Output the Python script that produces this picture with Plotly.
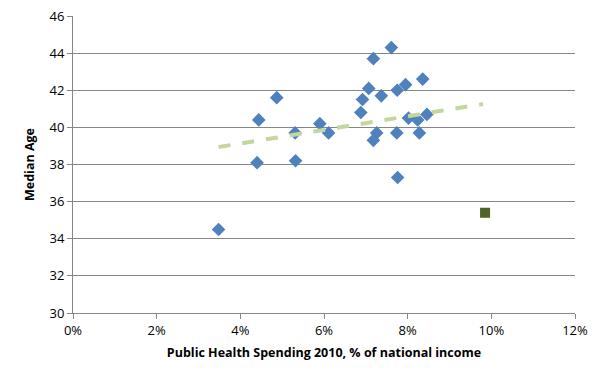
import plotly.graph_objects as go

# Blue diamond series: public health spending (% of national income) vs median age
spend = [3.48, 4.40, 4.44, 4.87, 5.31, 5.32, 5.90, 6.11, 6.88, 6.92, 7.07, 7.18, 7.18,
         7.26, 7.37, 7.61, 7.74, 7.75, 7.76, 7.95, 8.02, 8.24, 8.28, 8.36, 8.46]
age = [34.5, 38.1, 40.4, 41.6, 39.7, 38.2, 40.2, 39.7, 40.8, 41.5, 42.1, 43.7, 39.3,
       39.7, 41.7, 44.3, 39.7, 42.0, 37.3, 42.3, 40.5, 40.4, 39.7, 42.6, 40.7]

# Highlighted square point
sq_spend = [9.85]
sq_age = [35.4]

# Trendline endpoints
trend_x = [3.48, 9.80]
trend_y = [38.94, 41.26]

x_ticks = [0, 2, 4, 6, 8, 10, 12]
x_labels = ["0%", "2%", "4%", "6%", "8%", "10%", "12%"]
y_ticks = [30, 32, 34, 36, 38, 40, 42, 44, 46]

fig = go.Figure()
fig.add_trace(go.Scatter(x=spend, y=age, mode="markers",
                         marker=dict(symbol="diamond", size=10.5, color="#4F81BD",
                                     line=dict(width=0)),
                         showlegend=False))
fig.add_trace(go.Scatter(x=sq_spend, y=sq_age, mode="markers",
                         marker=dict(symbol="square", size=10, color="#4F6228",
                                     line=dict(width=0)),
                         showlegend=False))
fig.add_trace(go.Scatter(x=trend_x, y=trend_y, mode="lines",
                         line=dict(color="#C3D69B", width=4, dash="dash"),
                         showlegend=False))

font_family = "Open Sans, Liberation Sans, sans-serif"
fig.update_layout(
    width=604, height=383,
    margin=dict(l=73, r=29, t=16, b=70),
    paper_bgcolor="white", plot_bgcolor="white",
    font=dict(family=font_family, size=13, color="#000000"),
    xaxis=dict(range=[0, 12], tickvals=x_ticks, ticktext=x_labels,
               showgrid=False, zeroline=False, showline=True, linecolor="#868686",
               linewidth=1, ticks="outside", ticklen=5, tickcolor="#868686",
               tickfont=dict(size=13), automargin=False,
               title=dict(text="<b>Public Health Spending 2010, % of national income</b>",
                          font=dict(size=12.5), standoff=10)),
    yaxis=dict(range=[30, 46], tickvals=y_ticks,
               showgrid=True, gridcolor="#868686", gridwidth=1,
               zeroline=False, showline=True, linecolor="#868686", linewidth=1,
               ticks="outside", ticklen=5, tickcolor="#868686",
               tickfont=dict(size=13), automargin=False, ticklabeloverflow="allow",
               title=dict(text="<b>Median Age</b>", font=dict(size=12.5), standoff=12)),
)

fig.write_html("out.html", config={"displayModeBar": False},
               post_script="document.body.style.margin='0';document.body.style.overflow='hidden';")
